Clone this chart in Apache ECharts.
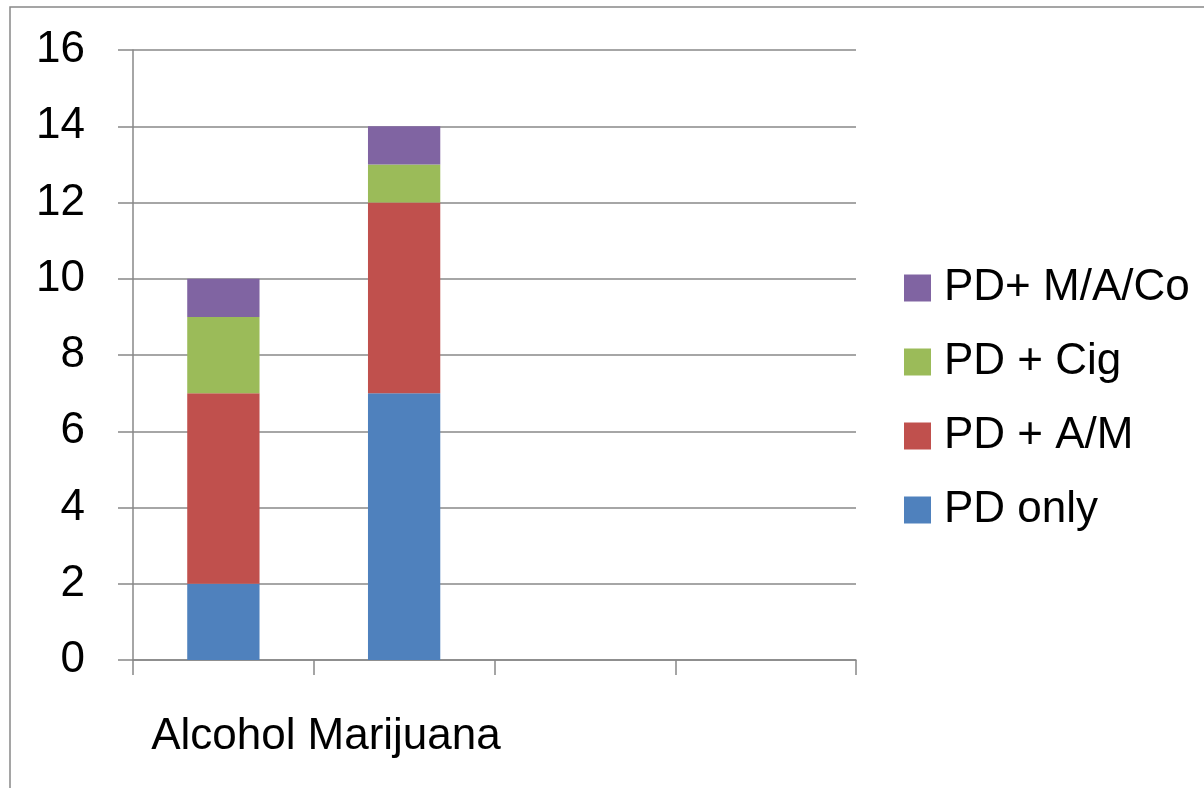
<!DOCTYPE html>
<html>
<head>
    <meta charset="UTF-8"/>
    <title>PD stacked bars</title>
    <style>
        html, body{
            margin: 0;
            background: #fff;
        }
    </style>
    <script src="https://cdn.jsdelivr.net/npm/echarts@6/dist/echarts.min.js"></script>
</head>
<body>
<div id="container" style="width: 1204px;height: 788px;"></div>

<script>
  // categories (last two are empty slots in the original)
  var categories = ['Alcohol', 'Marijuana', '', ''];
  var pdOnly   = [2, 7, null, null];
  var pdAM     = [5, 5, null, null];
  var pdCig    = [2, 1, null, null];
  var pdMACo   = [1, 1, null, null];
  var seriesNames = ['PD only', 'PD + A/M', 'PD + Cig', 'PD+ M/A/Co'];
  var colors = ['#4F81BD', '#C0504D', '#9BBB59', '#8064A2'];

  var dom = document.getElementById("container");
  var myChart = echarts.init(dom);
  var font = 'Liberation Sans, Arial, sans-serif';
  var gray = '#888888';

  var values = [pdOnly, pdAM, pdCig, pdMACo];
  var series = seriesNames.map(function (name, i) {
      return {
          name: name,
          type: 'bar',
          stack: 'total',
          barWidth: '40%',
          data: values[i],
          itemStyle: { color: colors[i] }
      };
  });

  var option = {
      animation: false,
      color: colors,
      graphic: [{
          type: 'rect',
          shape: { x: 10, y: 7, width: 2000, height: 2000 },
          style: { fill: 'none', stroke: gray, lineWidth: 1.5 },
          silent: true
      }],
      grid: { left: 133, right: 348, top: 50, bottom: 128 },
      legend: {
          orient: 'vertical',
          left: 904,
          top: 266,
          padding: 0,
          itemWidth: 27,
          itemHeight: 27,
          itemGap: 30,
          icon: 'rect',
          data: seriesNames.slice().reverse(),
          textStyle: { fontFamily: font, fontSize: 44, color: '#000', padding: [0, 0, 0, 8] }
      },
      xAxis: {
          type: 'category',
          data: categories,
          boundaryGap: true,
          axisLine: { lineStyle: { color: gray, width: 1.5 } },
          axisTick: { show: true, length: 15, lineStyle: { color: gray, width: 1.5 } },
          axisLabel: { interval: 0, margin: 55, fontFamily: font, fontSize: 44, color: '#000' }
      },
      yAxis: {
          type: 'value',
          min: 0,
          max: 16,
          interval: 2,
          axisLine: { show: true, lineStyle: { color: gray, width: 1.5 } },
          axisTick: { show: true, length: 15, lineStyle: { color: gray, width: 1.5 } },
          splitLine: { lineStyle: { color: gray, width: 1.5 } },
          axisLabel: { margin: 48, fontFamily: font, fontSize: 44, color: '#000' }
      },
      series: series
  };
  myChart.setOption(option);
</script>

</body>
</html>
